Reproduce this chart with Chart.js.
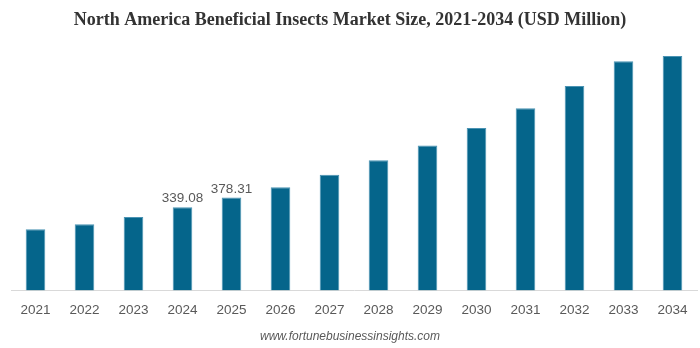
<!DOCTYPE html>
<html>
<head>
<meta charset="utf-8">
<script src="https://cdn.jsdelivr.net/npm/chart.js@4.4.1/dist/chart.umd.min.js"></script>
<style>
  html, body { margin: 0; padding: 0; background: #ffffff; }
  #wrap { width: 700px; height: 348px; }
</style>
</head>
<body>
<div id="wrap"><canvas id="grafico"></canvas></div>
<script>
// Años y tamaño de mercado (USD millones)
const years = ['2021', '2022', '2023', '2024', '2025', '2026', '2027', '2028', '2029', '2030', '2031', '2032', '2033', '2034'];
const marketSize = [249.1, 269.6, 299.3, 339.08, 378.31, 420.5, 470.8, 530.8, 590.8, 661.4, 741.9, 833.0, 933.8, 955.4];
// Solo se rotulan 2024 y 2025
const shownLabels = ['', '', '', '339.08', '378.31', '', '', '', '', '', '', '', '', ''];

// Etiquetas de valor encima de las barras
const etiquetasValor = {
    id: 'etiquetasValor',
    afterDatasetsDraw(chart) {
        const ctx = chart.ctx;
        const meta = chart.getDatasetMeta(0);
        ctx.save();
        ctx.font = '13.5px "Liberation Sans", Arial, sans-serif';
        ctx.fillStyle = '#595959';
        ctx.textAlign = 'center';
        ctx.textBaseline = 'bottom';
        meta.data.forEach((bar, i) => {
            if (!shownLabels[i]) return;
            ctx.fillText(shownLabels[i], bar.x, bar.y - 2);
        });
        ctx.restore();
    }
};

new Chart(document.getElementById('grafico').getContext('2d'), {
    type: 'bar',
    data: {
        labels: years,
        datasets: [{
            data: marketSize,
            backgroundColor: '#05658b',
            borderColor: '#4a93b3',
            borderWidth: 1,
            categoryPercentage: 1,
            barPercentage: 0.4
        }]
    },
    options: {
        responsive: true,
        maintainAspectRatio: false,
        animation: false,
        layout: { padding: { left: 3, right: 3, top: 0, bottom: 0 } },
        plugins: {
            legend: { display: false },
            tooltip: { enabled: false },
            title: {
                display: true,
                text: 'North America Beneficial Insects Market Size, 2021-2034 (USD Million)',
                color: '#333333',
                font: { family: '"Liberation Serif", "Times New Roman", serif', size: 18, weight: 'bold' },
                padding: { top: 10, bottom: 13.4 }
            },
            subtitle: {
                display: true,
                position: 'bottom',
                text: 'www.fortunebusinessinsights.com',
                color: '#595959',
                font: { family: '"Liberation Sans", Arial, sans-serif', size: 12, style: 'italic' },
                padding: { top: 7, bottom: 4 }
            }
        },
        scales: {
            x: {
                grid: { display: false },
                border: { display: true, color: '#d9d9d9', width: 1 },
                ticks: {
                    color: '#595959',
                    font: { family: '"Liberation Sans", Arial, sans-serif', size: 13.5 },
                    padding: 4
                }
            },
            y: {
                // eje invisible, solo reserva el margen izquierdo
                min: 0,
                max: 1000,
                grid: { display: false },
                border: { display: false },
                ticks: { display: false },
                afterFit(scale) { scale.width = 8; }
            }
        }
    },
    plugins: [etiquetasValor]
});
</script>
</body>
</html>
